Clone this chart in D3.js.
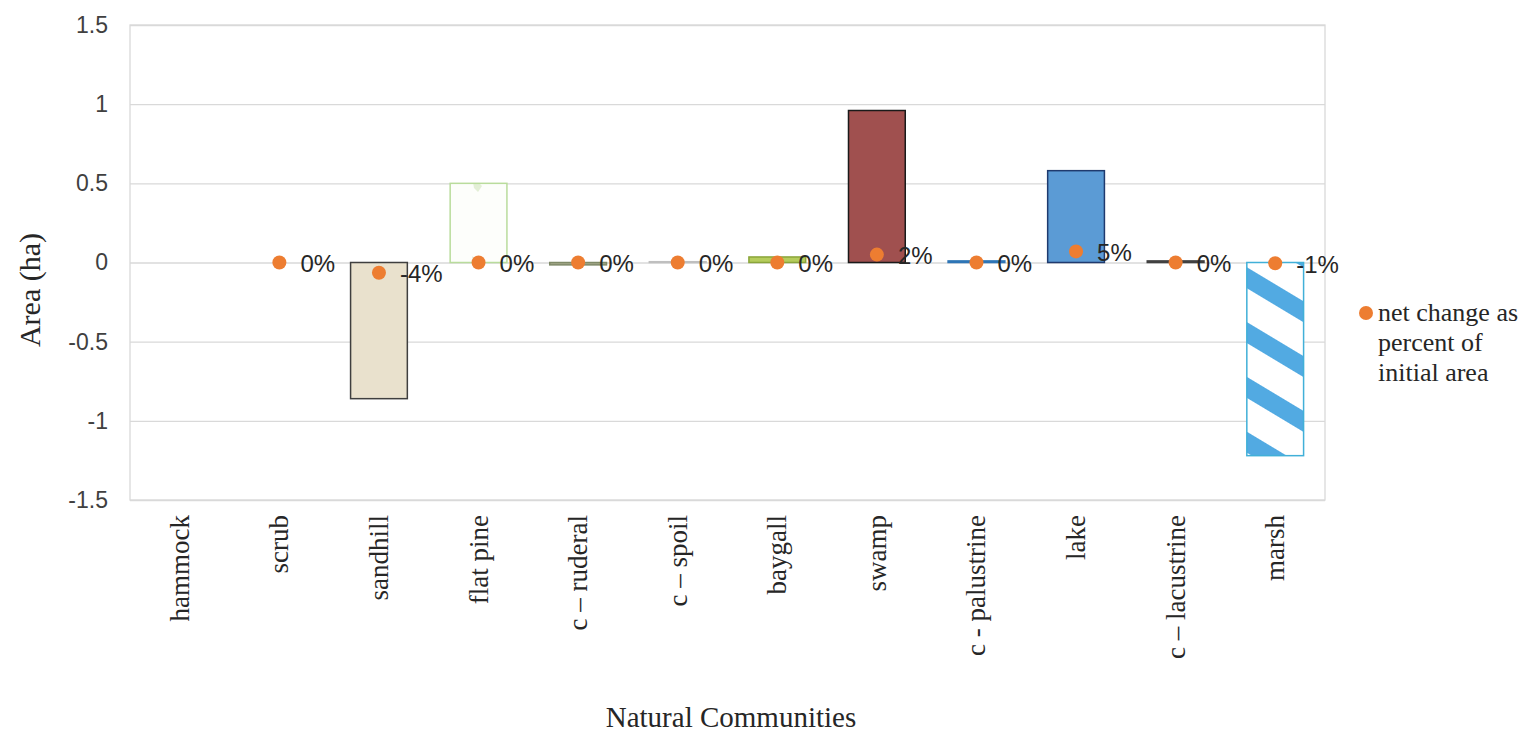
<!DOCTYPE html>
<html><head><meta charset="utf-8">
<script src="https://cdn.jsdelivr.net/npm/d3@7"></script>
<style>body{margin:0;background:#fff;} svg{display:block;}</style>
</head><body>
<svg id="chart" width="1532" height="738"></svg>
<script>
const categories = ["hammock","scrub","sandhill","flat pine","c \u2013 ruderal","c \u2013 spoil","baygall","swamp","c - palustrine","lake","c \u2013 lacustrine","marsh"];
const areaChange = [0, 0, -0.86, 0.5, -0.015, 0.005, 0.035, 0.96, 0.01, 0.58, 0.01, -1.22];
const pctPlotted = [null, 0, -0.065, 0, 0, 0, 0, 0.05, 0, 0.07, 0, -0.005];
const pctLabels = ["", "0%", "-4%", "0%", "0%", "0%", "0%", "2%", "0%", "5%", "0%", "-1%"];
const yTicks = [-1.5, -1, -0.5, 0, 0.5, 1, 1.5];
const legendLines = ["net change as", "percent of", "initial area"];

const barFills = ["#ffffff","#ffffff","#e9e1cd","url(#flatPine)","#a4a88a","#d0d0d0","#b5cc5c","#a0504f","#2e75b6","#5b9bd5","#595959","url(#marshStripes)"];
const barStrokes = ["none","none","#3f3f3f","#b9dc9c","#7f8a68","#bfbfbf","#8aa53a","#1a1a1a","#2e75b6","#1f3a6e","#404040","#41b0d8"];

const svg = d3.select("#chart");
const M = {left:130, right:1325, top:25, bottom:500};

const defs = svg.append("defs");
const mp = defs.append("pattern").attr("id","marshStripes").attr("patternUnits","userSpaceOnUse")
  .attr("width",47).attr("height",47).attr("patternTransform","translate(1244,276) rotate(31)");
mp.append("rect").attr("width",47).attr("height",47).attr("fill","#fff");
mp.append("rect").attr("y",0).attr("width",47).attr("height",9).attr("fill","#52aae2");
mp.append("rect").attr("y",38).attr("width",47).attr("height",9).attr("fill","#52aae2");
const fp = defs.append("pattern").attr("id","flatPine").attr("patternUnits","userSpaceOnUse")
  .attr("width",56).attr("height",80);
fp.append("rect").attr("width",56).attr("height",80).attr("fill","#fdfefb");
fp.append("path").attr("d","M24 16 L34 26 L30 32 L26 28 Z").attr("fill","#e3efd6");

const x = d3.scaleBand().domain(categories).range([M.left, M.right]).paddingInner(0.43).paddingOuter(0.215);
const y = d3.scaleLinear().domain([-1.5, 1.5]).range([M.bottom, M.top]);

svg.append("rect").attr("x",M.left).attr("y",M.top).attr("width",M.right-M.left).attr("height",M.bottom-M.top)
  .attr("fill","none").attr("stroke","#d9d9d9").attr("stroke-width",1.3);

const yAxis = d3.axisLeft(y).tickValues(yTicks).tickSize(-(M.right-M.left)).tickPadding(22).tickFormat(d => String(d));
const gy = svg.append("g").attr("transform",`translate(${M.left},0)`).call(yAxis);
gy.select(".domain").remove();
gy.selectAll(".tick line").attr("stroke","#d9d9d9").attr("stroke-width",1.3);
gy.selectAll(".tick text").attr("font-family","'Liberation Sans', Arial, sans-serif").attr("font-size",23).attr("fill","#404040");

svg.append("g").selectAll("rect").data(categories).join("rect")
  .attr("x", d => x(d))
  .attr("width", x.bandwidth())
  .attr("y", (d,i) => y(Math.max(0, areaChange[i])))
  .attr("height", (d,i) => Math.max(0, Math.abs(y(areaChange[i]) - y(0))))
  .attr("fill", (d,i) => barFills[i])
  .attr("stroke", (d,i) => barStrokes[i])
  .attr("stroke-width", 1.5)
  .attr("display", (d,i) => areaChange[i] === 0 ? "none" : null);

const cx = d => x(d) + x.bandwidth()/2;
const pts = categories.map((c,i) => ({c, v:pctPlotted[i], l:pctLabels[i]})).filter(p => p.v !== null);
svg.append("g").selectAll("circle").data(pts).join("circle")
  .attr("cx", p => cx(p.c)).attr("cy", p => y(p.v)).attr("r", 7).attr("fill", "#ed7d31");
svg.append("g").selectAll("text").data(pts).join("text")
  .attr("x", p => cx(p.c) + 21).attr("y", p => y(p.v) + 1)
  .attr("dominant-baseline","central")
  .attr("font-family","'Liberation Sans', Arial, sans-serif").attr("font-size",24).attr("fill","#262626")
  .text(p => p.l);

svg.append("g").selectAll("text").data(categories).join("text")
  .attr("transform", d => `translate(${cx(d)+9},${M.bottom+15}) rotate(-90)`)
  .attr("text-anchor","end")
  .attr("font-family","'Liberation Serif', 'Times New Roman', serif").attr("font-size",27).attr("fill","#262626")
  .text(d => d);

svg.append("text").attr("transform",`translate(40,290) rotate(-90)`).attr("text-anchor","middle")
  .attr("font-family","'Liberation Serif', 'Times New Roman', serif").attr("font-size",30).attr("fill","#262626")
  .text("Area (ha)");
svg.append("text").attr("x",731).attr("y",727).attr("text-anchor","middle")
  .attr("font-family","'Liberation Serif', 'Times New Roman', serif").attr("font-size",29).attr("fill","#262626")
  .text("Natural Communities");

const lg = svg.append("g").attr("transform","translate(1366,313)");
lg.append("circle").attr("r",7).attr("fill","#ed7d31");
lg.selectAll("text").data(legendLines).join("text")
  .attr("x",12).attr("y",(d,i)=> i*30 + 8)
  .attr("font-family","'Liberation Serif', 'Times New Roman', serif").attr("font-size",26).attr("fill","#262626")
  .text(d => d);
</script>
</body></html>
